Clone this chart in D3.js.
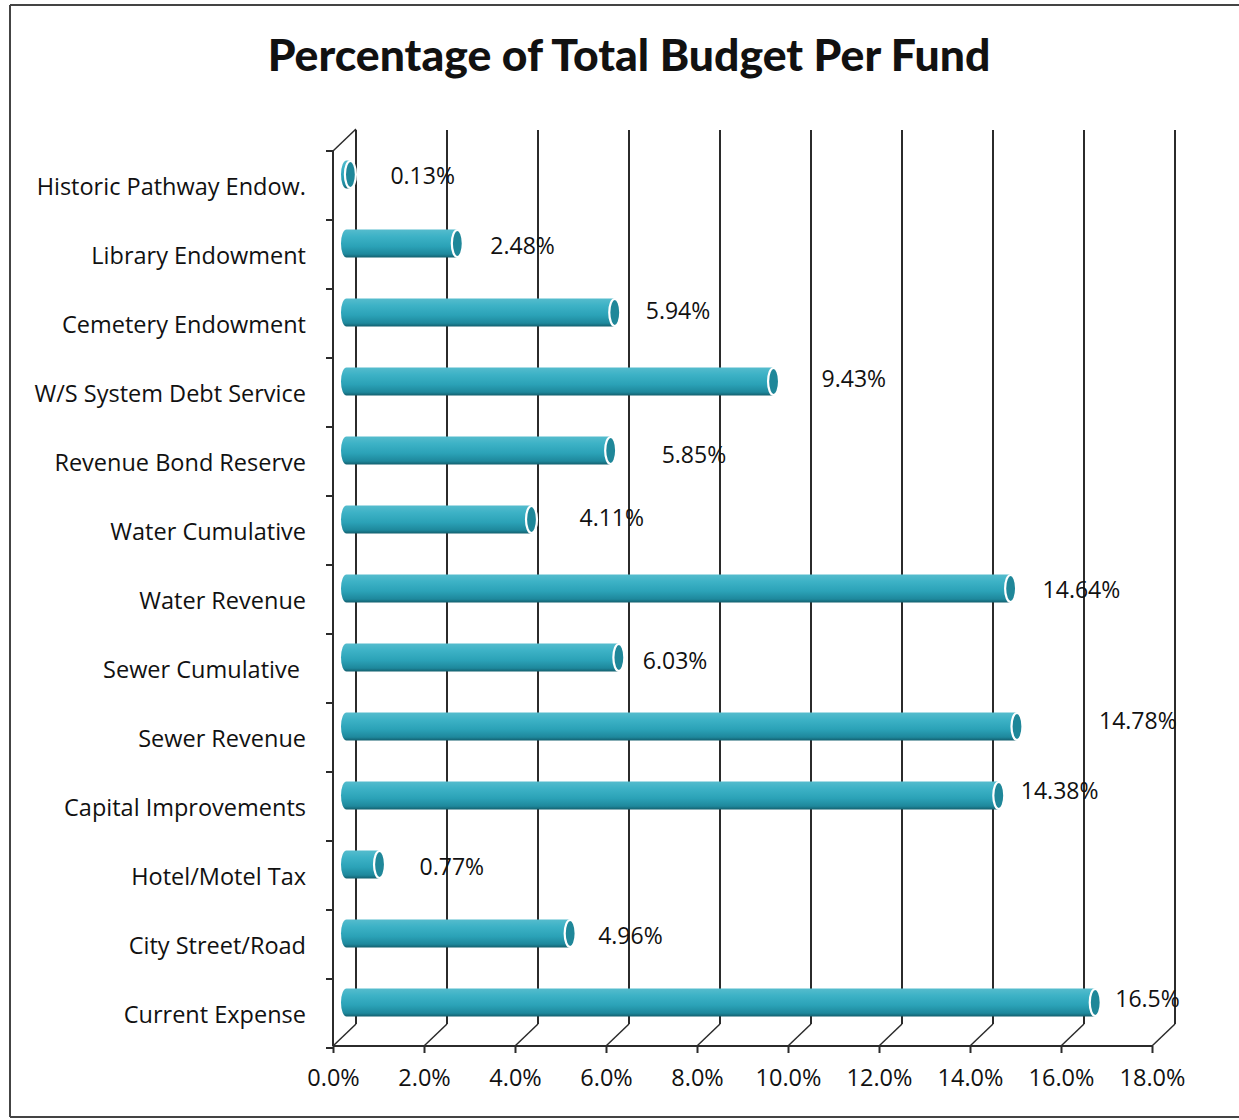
<!DOCTYPE html>
<html>
<head>
<meta charset="utf-8">
<script src="https://cdn.jsdelivr.net/npm/d3@7"></script>
<style>
  html, body { margin: 0; padding: 0; background: #fff; }
  svg text { fill: #111; white-space: pre; }
</style>
</head>
<body>
<svg id="chart" width="1239" height="1120"></svg>
<script>
// ---- data ----
const categories = [
  "Historic Pathway Endow.", "Library Endowment", "Cemetery Endowment",
  "W/S System Debt Service", "Revenue Bond Reserve", "Water Cumulative",
  "Water Revenue", "Sewer Cumulative ", "Sewer Revenue", "Capital Improvements",
  "Hotel/Motel Tax", "City Street/Road", "Current Expense"
];
const values = [0.13, 2.48, 5.94, 9.43, 5.85, 4.11, 14.64, 6.03, 14.78, 14.38, 0.77, 4.96, 16.5];
const valueLabels = ["0.13%", "2.48%", "5.94%", "9.43%", "5.85%", "4.11%", "14.64%", "6.03%", "14.78%", "14.38%", "0.77%", "4.96%", "16.5%"];
const tickValues = [0, 2, 4, 6, 8, 10, 12, 14, 16, 18];
const tickLabels = ["0.0%", "2.0%", "4.0%", "6.0%", "8.0%", "10.0%", "12.0%", "14.0%", "16.0%", "18.0%"];
const titleText = "Percentage of Total Budget Per Fund";

// ---- layout (manually placed data labels in the original) ----
const labelDx = [40, 33, 31, 48, 51, 48, 32, 24, 82, 22, 40, 28, 20];
const labelDy = [1.5, 2.5, -1.5, -2.5, 4.5, -1.5, 1.5, 3.5, -5.5, -4.5, 2.5, 2.5, -3.5];

const svg = d3.select("#chart");
const bodyFont = "'Open Sans', Lato, sans-serif";
const DX = 23, DY = -22;          // 3-D depth offset
const frontTop = 151, frontBottom = 1048;
const x = d3.scaleLinear().domain([0, 18]).range([333, 1152]);
const y = d3.scaleBand().domain(categories).range([frontTop, frontBottom]).padding(0);
const axisColor = "#2b2b2b";

// outer frame
svg.append("line").attr("x1", 10).attr("x2", 1239).attr("y1", 5).attr("y2", 5).attr("stroke", "#444").attr("stroke-width", 2);
svg.append("line").attr("x1", 10).attr("x2", 10).attr("y1", 5).attr("y2", 1117).attr("stroke", "#444").attr("stroke-width", 2);
svg.append("line").attr("x1", 10).attr("x2", 1239).attr("y1", 1117).attr("y2", 1117).attr("stroke", "#444").attr("stroke-width", 2);

// title
svg.append("text").attr("x", 629).attr("y", 71).attr("text-anchor", "middle")
  .style("font-family", "Lato, sans-serif")
  .style("font-size", "44.5px").style("font-weight", 900).text(titleText);

// back wall gridlines
const g = svg.append("g");
const backTop = 130, backBottom = 1046 + DY;
g.selectAll(".grid").data(tickValues).join("line")
  .attr("x1", d => x(d) + DX).attr("x2", d => x(d) + DX)
  .attr("y1", backTop).attr("y2", backBottom)
  .attr("stroke", axisColor).attr("stroke-width", 2);
// floor diagonals
g.selectAll(".diag").data(tickValues).join("line")
  .attr("x1", d => x(d)).attr("y1", 1046)
  .attr("x2", d => x(d) + DX).attr("y2", backBottom)
  .attr("stroke", axisColor).attr("stroke-width", 1.5);
// top-left diagonal of side wall
g.append("line").attr("x1", x(0)).attr("y1", frontTop).attr("x2", x(0) + DX).attr("y2", frontTop + DY)
  .attr("stroke", axisColor).attr("stroke-width", 1.5);

// front x axis
const xAxis = d3.axisBottom(x).tickValues(tickValues).tickSize(7).tickFormat((d, i) => tickLabels[i]);
const gx = svg.append("g").attr("transform", "translate(0,1046)").call(xAxis);
gx.select(".domain").attr("stroke", axisColor).attr("stroke-width", 2).attr("d", `M${x(0)},0H${x(18)}`);
gx.selectAll(".tick line").attr("stroke", axisColor).attr("stroke-width", 2);
gx.selectAll(".tick text").attr("dy", 0).attr("y", 40)
  .style("font-family", bodyFont).style("font-size", "23.5px").attr("fill", "#111");

// front y axis
svg.append("line").attr("x1", x(0)).attr("x2", x(0)).attr("y1", frontTop).attr("y2", 1046)
  .attr("stroke", axisColor).attr("stroke-width", 2);
const bounds = d3.range(categories.length + 1).map(i => frontTop + i * y.step());
svg.selectAll(".ytick").data(bounds).join("line")
  .attr("x1", x(0) - 7).attr("x2", x(0)).attr("y1", d => d).attr("y2", d => d)
  .attr("stroke", axisColor).attr("stroke-width", 2);

// category labels
svg.selectAll(".cat").data(categories).join("text")
  .attr("x", 306).attr("y", d => y(d) + y.bandwidth() / 2 + 9)
  .attr("text-anchor", "end")
  .style("font-family", bodyFont).style("font-size", "23.5px").text(d => d);

// gradient for cylinders
const defs = svg.append("defs");
const grad = defs.append("linearGradient").attr("id", "cyl").attr("x1", 0).attr("x2", 0).attr("y1", 0).attr("y2", 1);
[["0%", "#55bccd"], ["25%", "#3db2c6"], ["60%", "#2ba2b7"], ["88%", "#1e889c"], ["100%", "#135f6e"]]
  .forEach(([o, c]) => grad.append("stop").attr("offset", o).attr("stop-color", c));

// bars (cylinders at mid-depth)
const barH = 28, rx = 5.5, ry = barH / 2;
const bars = svg.selectAll(".bar").data(values).join("g");
bars.each(function (v, i) {
  const cy = y(categories[i]) + y.bandwidth() / 2 + DY / 2;
  const x0 = x(0) + DX / 2 + 2;
  const x1 = x(v) + DX / 2;
  const sel = d3.select(this);
  const left = Math.min(x0, x1 - 2);
  sel.append("path")
    .attr("d", `M${x1},${cy - ry} L${left},${cy - ry} A${rx},${ry} 0 0 0 ${left},${cy + ry} L${x1},${cy + ry} Z`)
    .attr("fill", "url(#cyl)");
  sel.append("ellipse").attr("cx", x1).attr("cy", cy).attr("rx", rx).attr("ry", ry - 0.5)
    .attr("fill", "#1f8799").attr("stroke", "#ffffff").attr("stroke-width", 2.2);
  sel.append("text")
    .attr("x", x1 + labelDx[i]).attr("y", cy + labelDy[i] + 8)
    .style("font-family", bodyFont).style("font-size", "23px").text(valueLabels[i]);
});
</script>
</body>
</html>
